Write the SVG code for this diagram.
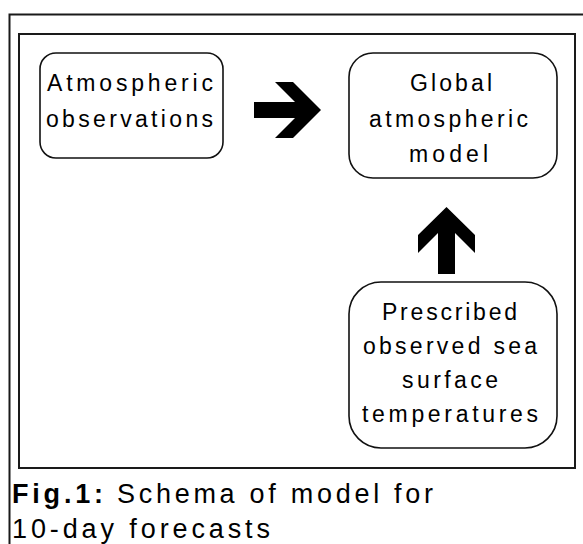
<svg xmlns="http://www.w3.org/2000/svg" width="583" height="544" viewBox="0 0 583 544">
<style>
.frame{fill:none;stroke:#1a1a1a;stroke-width:2}
.node{fill:#fff;stroke:#111;stroke-width:1.6}
.t{font-family:"Liberation Sans",Arial,sans-serif;font-size:23px;fill:#000}
.cap{font-family:"Liberation Sans",Arial,sans-serif;font-size:27px;fill:#000}
.arrow{fill:#000}
</style>
<rect width="583" height="544" fill="#fff"/>
<rect class="frame" x="9.5" y="14.5" width="590" height="550"/>
<rect class="frame" x="19" y="34" width="556" height="434"/>
<g id="n1">
<rect class="node" x="40" y="53" width="183" height="105" rx="16" ry="16"/>
<text class="t" x="47" y="91" textLength="166" lengthAdjust="spacing">Atmospheric</text>
<text class="t" x="46" y="127" textLength="167" lengthAdjust="spacing">observations</text>
</g>
<g id="n2">
<rect class="node" x="349" y="53" width="208" height="125" rx="24" ry="24"/>
<text class="t" x="410" y="91" textLength="82" lengthAdjust="spacing">Global</text>
<text class="t" x="369" y="127" textLength="159" lengthAdjust="spacing">atmospheric</text>
<text class="t" x="409" y="162" textLength="79" lengthAdjust="spacing">model</text>
</g>
<g id="n3">
<rect class="node" x="349" y="282" width="208" height="166" rx="32" ry="32"/>
<text class="t" x="382" y="320" textLength="135" lengthAdjust="spacing">Prescribed</text>
<text class="t" x="363" y="354" textLength="174" lengthAdjust="spacing">observed sea</text>
<text class="t" x="402" y="388" textLength="96" lengthAdjust="spacing">surface</text>
<text class="t" x="362" y="422" textLength="176" lengthAdjust="spacing">temperatures</text>
</g>
<g id="connectors">
<polygon class="arrow" points="254,102 295,102 275,82 293,82 321,110 293,138 275,138 295,118 254,118"/>
<polygon class="arrow" points="446.5,207 418,235 418,253 438,233 438,274 455,274 455,233 475,253 475,235"/>
</g>
<g id="caption">
<text class="cap" x="12" y="503" font-weight="bold" textLength="91" lengthAdjust="spacing">Fig.1:</text>
<text class="cap" x="117" y="503" textLength="316" lengthAdjust="spacing">Schema of model for</text>
<text class="cap" x="12" y="538" textLength="258" lengthAdjust="spacing">10-day forecasts</text>
</g>
</svg>
